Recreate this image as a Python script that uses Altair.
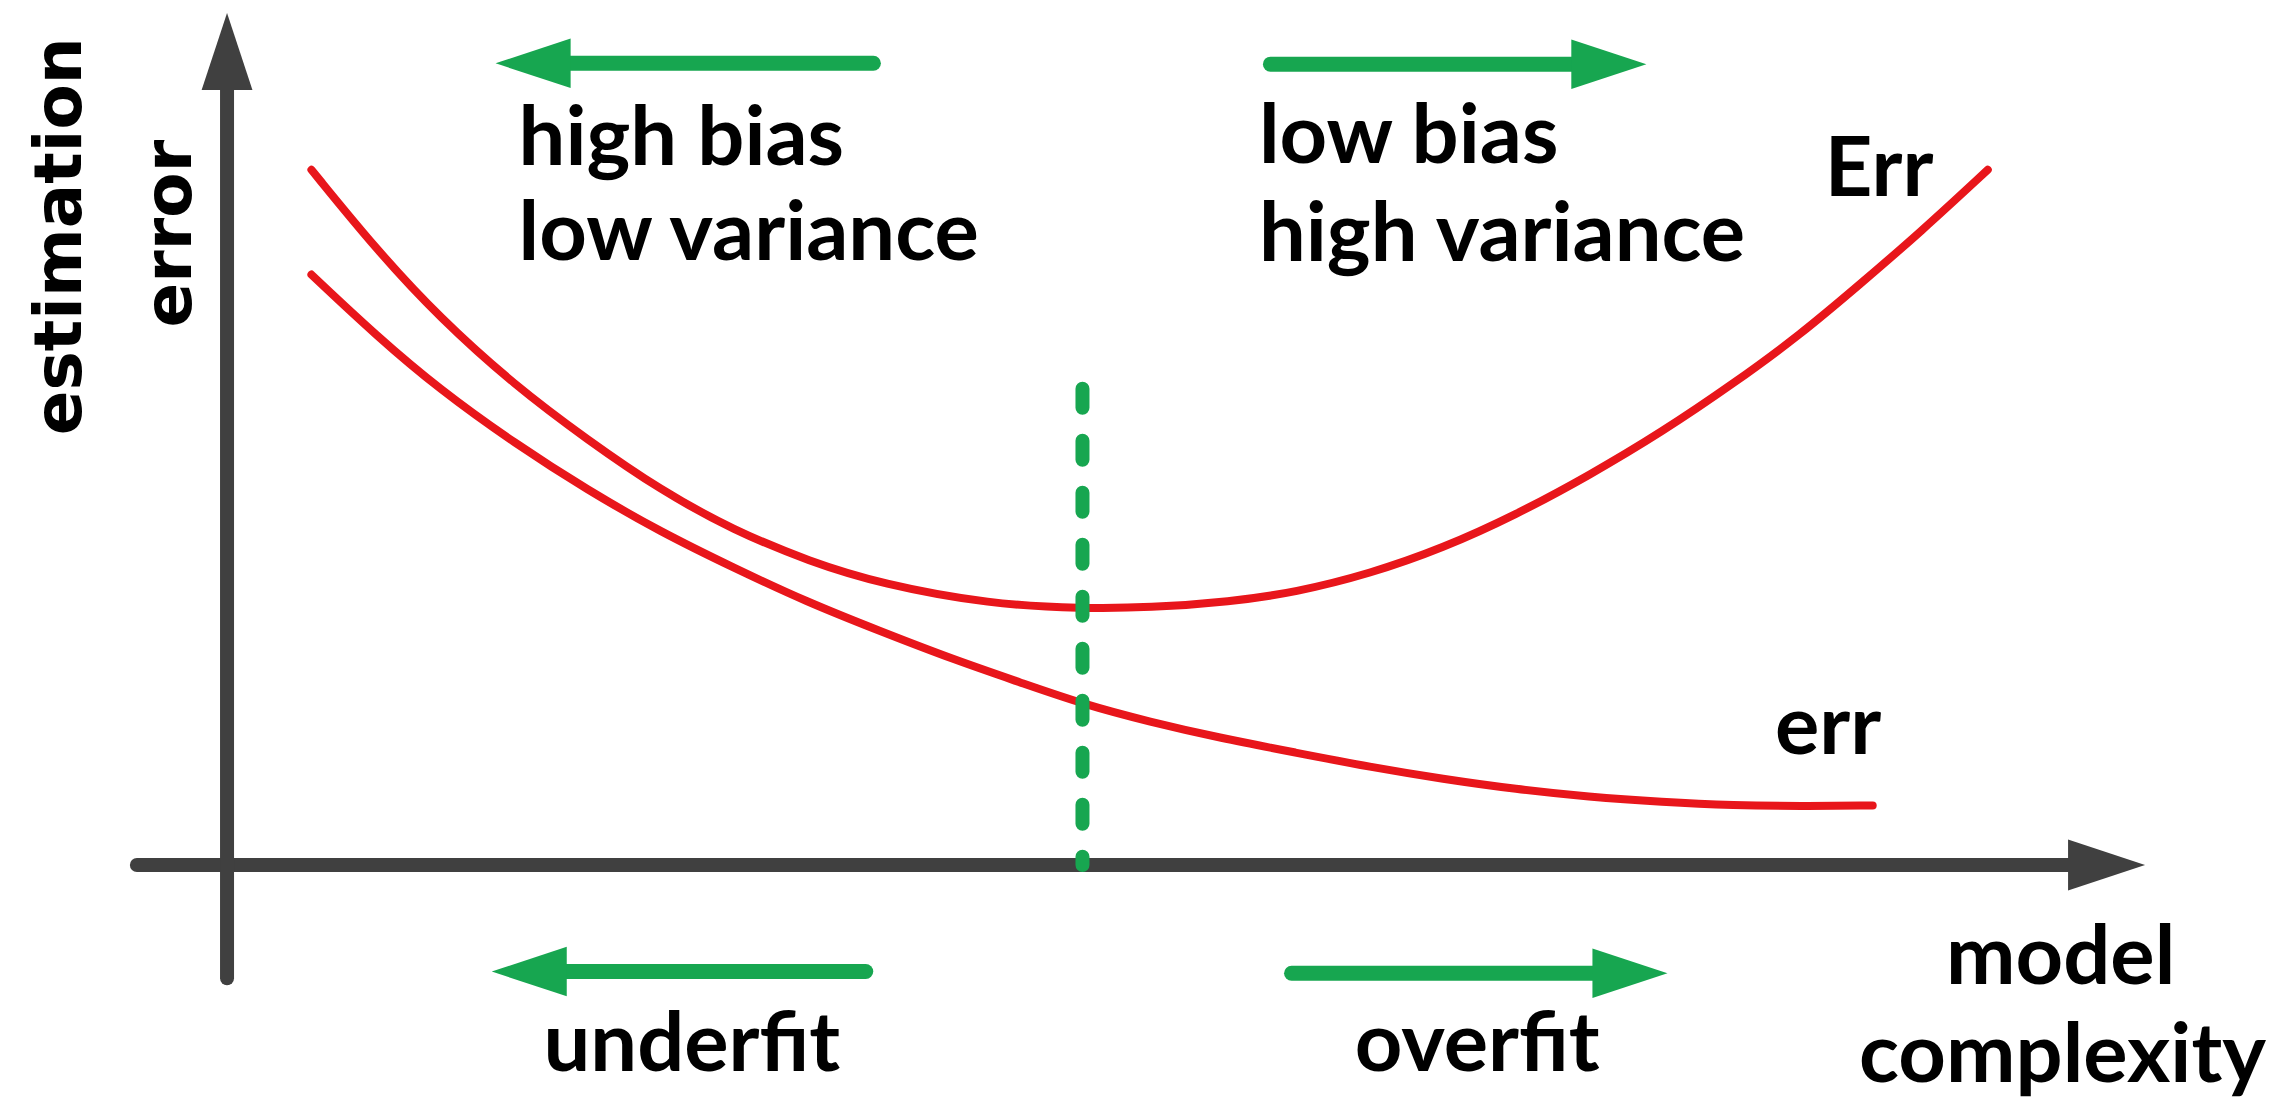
import altair as alt
import pandas as pd

# ---------------------------------------------------------------------------
# Abstract coordinate system: model complexity runs 0..100 along the x axis
# (arrow tip = 100), estimation error runs 0..100 along the y axis (tip = 100)
# ---------------------------------------------------------------------------
W, H = 2279, 1092
X_DOMAIN = [-11.42, 107.40]
Y_DOMAIN = [-27.58, 100.59]

# test error curve "Err"
Err_x = [4.4, 7.8, 11.1, 15.0, 18.8, 22.6, 26.4, 30.4, 34.1, 39.8, 44.6, 48.1,
         52.3, 55.7, 59.6, 63.4, 67.2, 71.0, 74.8, 78.6, 82.0, 85.1, 88.3, 91.8]
Err_y = [81.6, 72.2, 64.2, 56.3, 49.9, 44.0, 39.3, 35.6, 33.0, 30.6, 30.1, 30.2,
         30.9, 32.0, 34.2, 37.2, 41.1, 45.7, 50.8, 56.6, 62.2, 68.1, 74.3, 81.6]

# training error curve "err"
err_x = [4.4, 7.8, 11.1, 15.0, 18.8, 22.6, 26.4, 30.2, 34.1, 37.9, 41.4, 44.6,
         48.1, 51.8, 55.7, 59.6, 63.4, 67.2, 71.0, 74.8, 78.6, 82.0, 85.8]
err_y = [69.3, 62.1, 55.8, 49.5, 44.0, 39.1, 34.9, 30.9, 27.4, 24.1, 21.4, 18.9,
         16.8, 14.9, 13.2, 11.5, 10.1, 8.9, 8.0, 7.4, 7.0, 6.9, 7.0]

# axes (tail -> tip)
axis_tail_x = [-4.7, 0.0]
axis_tail_y = [0.0, -13.3]
axis_tip_x = [100.0, 0.0]
axis_tip_y = [0.0, 100.0]
axis_dir = ["right", "up"]

# green direction arrows (tail -> tip)
arrow_tail_x = [33.7, 54.4, 33.3, 55.5]
arrow_tip_x = [14.0, 74.0, 13.8, 75.1]
arrow_y = [94.1, 94.0, -12.5, -12.7]
arrow_dir = ["left", "right", "left", "right"]

# optimal complexity marker
optimal_x = [44.6]
optimal_top = [55.9]
optimal_bottom = [0.0]

# labels (left aligned, Lato)
lab_text = ["high bias", "low variance", "low bias", "high variance",
            "Err", "err", "underfit", "overfit"]
lab_x = [15.2, 15.2, 53.8, 53.8, 83.3, 80.7, 16.5, 58.8]
lab_y = [82.2, 71.0, 82.4, 70.9, 78.5, 13.0, -24.2, -24.2]

# x axis title (centered)
xt_text = ["model", "complexity"]
xt_x = [95.6, 95.7]
xt_y = [-14.0, -25.5]

# y axis title (rotated)
yt_text = ["estimation", "error"]
yt_x = [-7.6, -1.9]
yt_y = [73.8, 74.1]

GREY = "#404040"
RED = "#E8161B"
GREEN = "#17A650"

HEAD_LEN = 77  # px
PX_X = W / (X_DOMAIN[1] - X_DOMAIN[0])
PX_Y = H / (Y_DOMAIN[1] - Y_DOMAIN[0])
SHAPES = {
    "right": "M0,0L-1,-0.33L-1,0.33Z",
    "left": "M0,0L1,-0.33L1,0.33Z",
    "up": "M0,0L-0.33,1L0.33,1Z",
}
HEAD_SIZE = (2 * HEAD_LEN) ** 2

xs = alt.Scale(domain=X_DOMAIN, nice=False, zero=False)
ys = alt.Scale(domain=Y_DOMAIN, nice=False, zero=False)


def X(f="x"):
    return alt.X(f"{f}:Q", scale=xs, axis=None)


def Y(f="y"):
    return alt.Y(f"{f}:Q", scale=ys, axis=None)


def shaft_end(tx, ty, d):
    back = 0.6 * HEAD_LEN
    if d == "right":
        return tx - back / PX_X, ty
    if d == "left":
        return tx + back / PX_X, ty
    return tx, ty - back / PX_Y


# ---- axes ----
ax_rows = []
for x0, y0, x1, y1, d in zip(axis_tail_x, axis_tail_y, axis_tip_x, axis_tip_y, axis_dir):
    ex, ey = shaft_end(x1, y1, d)
    ax_rows.append(dict(x=x0, y=y0, x2=ex, y2=ey, tx=x1, ty=y1, shape=SHAPES[d]))
ax_df = pd.DataFrame(ax_rows)

axis_lines = alt.Chart(ax_df).mark_rule(
    color=GREY, strokeWidth=14, strokeCap="round"
).encode(x=X(), y=Y(), x2="x2:Q", y2="y2:Q")

axis_heads = alt.Chart(ax_df).mark_point(
    filled=True, color=GREY, opacity=1, size=HEAD_SIZE, strokeWidth=0
).encode(x=X("tx"), y=Y("ty"), shape=alt.Shape("shape:N", scale=None))

# ---- green arrows ----
ar_rows = []
for x0, x1, yy, d in zip(arrow_tail_x, arrow_tip_x, arrow_y, arrow_dir):
    ex, ey = shaft_end(x1, yy, d)
    ar_rows.append(dict(x=x0, y=yy, x2=ex, y2=ey, tx=x1, ty=yy, shape=SHAPES[d]))
ar_df = pd.DataFrame(ar_rows)

arrow_lines = alt.Chart(ar_df).mark_rule(
    color=GREEN, strokeWidth=15, strokeCap="round"
).encode(x=X(), y=Y(), x2="x2:Q", y2="y2:Q")

arrow_heads = alt.Chart(ar_df).mark_point(
    filled=True, color=GREEN, opacity=1, size=HEAD_SIZE * 0.95, strokeWidth=0
).encode(x=X("tx"), y=Y("ty"), shape=alt.Shape("shape:N", scale=None))

# ---- curves ----
big_df = pd.DataFrame({"x": Err_x, "y": Err_y})
small_df = pd.DataFrame({"x": err_x, "y": err_y})

Err_line = alt.Chart(big_df).mark_line(
    color=RED, strokeWidth=8, strokeCap="round", interpolate="basis"
).encode(x=X(), y=Y())
err_line = alt.Chart(small_df).mark_line(
    color=RED, strokeWidth=8, strokeCap="round", interpolate="basis"
).encode(x=X(), y=Y())

# ---- dashed optimum ----
opt_df = pd.DataFrame({"x": optimal_x, "y": optimal_top, "y2": optimal_bottom})
opt_line = alt.Chart(opt_df).mark_rule(
    color=GREEN, strokeWidth=14, strokeCap="round", strokeDash=[19, 33]
).encode(x=X(), y=Y(), y2="y2:Q")

# ---- text ----
lab_df = pd.DataFrame({"x": lab_x, "y": lab_y, "t": lab_text})
labels = alt.Chart(lab_df).mark_text(
    font="Lato", fontWeight="bold", fontSize=83, align="left",
    baseline="alphabetic", color="black"
).encode(x=X(), y=Y(), text="t:N")

xt_df = pd.DataFrame({"x": xt_x, "y": xt_y, "t": xt_text})
xtitle = alt.Chart(xt_df).mark_text(
    font="Lato", fontWeight="bold", fontSize=83, align="center",
    baseline="alphabetic", color="black"
).encode(x=X(), y=Y(), text="t:N")

yt_df = pd.DataFrame({"x": yt_x, "y": yt_y, "t": yt_text})
ytitle = alt.Chart(yt_df).mark_text(
    font="DejaVu Sans", fontWeight="bold", fontSize=66, align="center",
    baseline="alphabetic", angle=270, color="black"
).encode(x=X(), y=Y(), text="t:N")

chart = alt.layer(
    axis_lines, axis_heads, Err_line, err_line, opt_line,
    arrow_lines, arrow_heads, labels, xtitle, ytitle
).properties(
    width=W, height=H, padding=0, autosize="none", background="white"
).configure_view(strokeWidth=0)

chart.save("out.html", embed_options={"renderer": "svg", "actions": False})
